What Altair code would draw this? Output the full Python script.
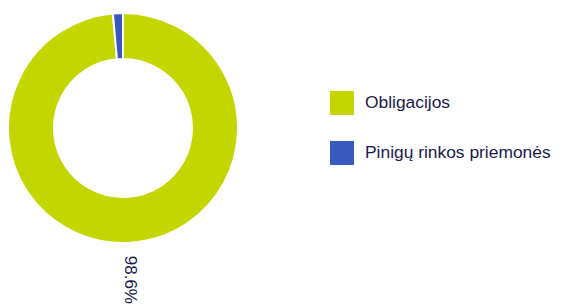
import altair as alt
import pandas as pd

categories = ["Obligacijos", "Pinigų rinkos priemonės"]
values = [98.6, 1.4]
labels = ["98.6%", ""]
colors = ["#c4d600", "#3a59be"]

df = pd.DataFrame({"cat": categories, "val": values, "label": labels, "order": [0, 1]})

base = alt.Chart(df).encode(
    theta=alt.Theta("val:Q", stack=True),
    order=alt.Order("order:Q"),
)

arc = base.mark_arc(outerRadius=115, innerRadius=69, stroke="white", strokeWidth=2).encode(
    x=alt.value(115),
    y=alt.value(120),
    color=alt.Color(
        "cat:N",
        scale=alt.Scale(domain=categories, range=colors),
        sort=categories,
        legend=alt.Legend(
            title=None,
            orient="none",
            legendX=322,
            legendY=83,
            symbolType="square",
            symbolSize=576,
            symbolStrokeWidth=0,
            labelFontSize=17.4,
            labelFont="Liberation Sans",
            labelColor="#1a1a4a",
            rowPadding=26,
            labelOffset=11,
            labelLimit=300,
        ),
    ),
)

text = base.mark_text(radius=152, angle=90, fontSize=17, font="Liberation Sans", color="#1a1a4a").encode(
    x=alt.value(115),
    y=alt.value(120),
    text="label:N",
)

chart = alt.layer(arc, text).properties(
    width=545, height=298, autosize=alt.AutoSizeParams(type="none"), padding=0
).configure_view(stroke=None)

chart.save("out.html", embed_options={"renderer": "svg", "actions": False})
